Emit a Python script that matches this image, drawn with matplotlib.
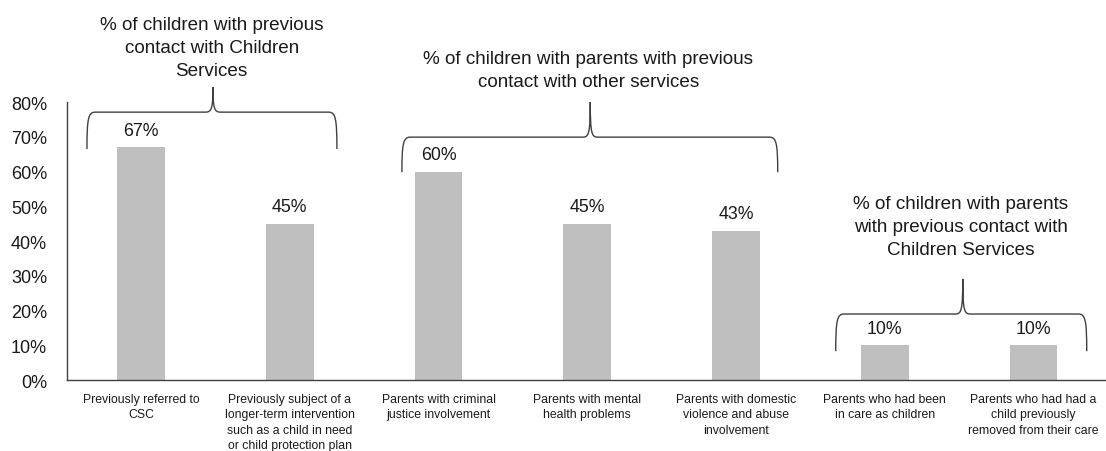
import matplotlib.pyplot as plt
from matplotlib.path import Path
from matplotlib.patches import PathPatch

plt.rcParams['font.family'] = ['Liberation Sans', 'DejaVu Sans']

categories = [
    "Previously referred to\nCSC",
    "Previously subject of a\nlonger-term intervention\nsuch as a child in need\nor child protection plan",
    "Parents with criminal\njustice involvement",
    "Parents with mental\nhealth problems",
    "Parents with domestic\nviolence and abuse\ninvolvement",
    "Parents who had been\nin care as children",
    "Parents who had had a\nchild previously\nremoved from their care",
]
values = [0.67, 0.45, 0.60, 0.45, 0.43, 0.10, 0.10]
yticks = [0, 0.1, 0.2, 0.3, 0.4, 0.5, 0.6, 0.7, 0.8]

group_labels = [
    "% of children with previous\ncontact with Children\nServices",
    "% of children with parents with previous\ncontact with other services",
    "% of children with parents\nwith previous contact with\nChildren Services",
]
# (left, right, centre, bottom of tips, horizontal, peak) in data units
braces = [
    (-0.363, 1.317, 0.484, 0.665, 0.771, 0.843),
    (1.754, 4.280, 3.020, 0.598, 0.699, 0.800),
    (4.670, 6.357, 5.524, 0.083, 0.190, 0.291),
]
label_pos = [(0.475, 0.958), (3.007, 0.893), (5.51, 0.442)]


def draw_brace(ax, x0, x1, xc, yb, yh, yp):
    rx = 0.055
    px = 0.05
    verts = [
        (x0, yb),
        (x0, yh - 0.02), (x0 + rx * 0.15, yh), (x0 + rx, yh),
        (xc - px, yh),
        (xc - px * 0.2, yh), (xc, yh + 0.01), (xc, yp),
        (xc, yh + 0.01), (xc + px * 0.2, yh), (xc + px, yh),
        (x1 - rx, yh),
        (x1 - rx * 0.15, yh), (x1, yh - 0.02), (x1, yb),
    ]
    codes = [Path.MOVETO,
             Path.CURVE4, Path.CURVE4, Path.CURVE4,
             Path.LINETO,
             Path.CURVE4, Path.CURVE4, Path.CURVE4,
             Path.CURVE4, Path.CURVE4, Path.CURVE4,
             Path.LINETO,
             Path.CURVE4, Path.CURVE4, Path.CURVE4]
    patch = PathPatch(Path(verts, codes), fill=False, edgecolor="#404040",
                      linewidth=1.0, clip_on=False)
    ax.add_patch(patch)


fig = plt.figure(figsize=(11.06, 4.52), dpi=100)
ax = fig.add_axes([0.0602, 0.157, 0.9416, 0.615])

x = list(range(len(values)))
ax.bar(x, values, width=0.32, color="#bfbfbf")

for xi, v in zip(x, values):
    ax.text(xi, v + 0.025, f"{round(v * 100)}%", ha="center", va="bottom",
            fontsize=12.8, color="#1a1a1a")

ax.set_xlim(-0.5, 6.5)
ax.set_ylim(0, 0.8)
ax.set_yticks(yticks)
ax.set_yticklabels([f"{round(t * 100)}%" for t in yticks], fontsize=13,
                   color="#1a1a1a")
ax.set_xticks(x)
ax.set_xticklabels(categories, fontsize=8.8, color="#1a1a1a", linespacing=1.4)
ax.tick_params(axis="both", length=0)
ax.tick_params(axis="x", pad=9)
ax.tick_params(axis="y", pad=14)

for s in ["top", "right"]:
    ax.spines[s].set_visible(False)
for s in ["left", "bottom"]:
    ax.spines[s].set_color("#404040")
    ax.spines[s].set_linewidth(1.0)

for b in braces:
    draw_brace(ax, *b)

for (tx, ty), lab in zip(label_pos, group_labels):
    ax.text(tx, ty, lab, ha="center", va="center", fontsize=13.6,
            linespacing=1.45, color="#1a1a1a", clip_on=False)

fig.savefig("out.png", dpi=100)
